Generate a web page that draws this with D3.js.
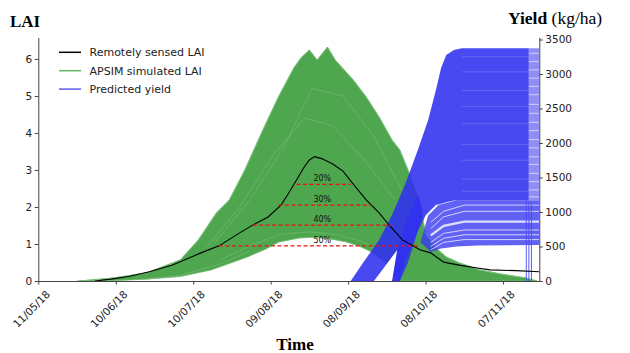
<!DOCTYPE html>
<html><head><meta charset="utf-8">
<script src="https://cdn.jsdelivr.net/npm/d3@7"></script>
<style>
body{margin:0;background:#fff}
svg{display:block}
</style>
</head><body>
<svg id="c" width="630" height="353"></svg>
<script>
// ---------------- DATA ----------------
const xTickDates = ["2018-05-11","2018-06-10","2018-07-10","2018-08-09","2018-09-08","2018-10-08","2018-11-07"];
const laiTicks = [0,1,2,3,4,5,6];
const yieldTicks = [0,500,1000,1500,2000,2500,3000,3500];
const legendLabels = ["Remotely sensed LAI","APSIM simulated LAI","Predicted yield"];

// Remotely sensed LAI (black)
const rsDates = ["2018-06-02","2018-06-08","2018-06-15","2018-06-23","2018-07-02","2018-07-13","2018-07-20","2018-07-28","2018-08-02","2018-08-08","2018-08-13","2018-08-16","2018-08-19","2018-08-22","2018-08-24","2018-08-26","2018-08-29","2018-09-02","2018-09-06","2018-09-10","2018-09-15","2018-09-20","2018-09-24","2018-09-29","2018-10-06","2018-10-10","2018-10-15","2018-10-21","2018-10-28","2018-11-02","2018-11-12","2018-11-21"];
const rsLAI = [0.00,0.05,0.12,0.25,0.43,0.76,0.95,1.30,1.51,1.73,2.05,2.38,2.73,3.08,3.27,3.36,3.30,3.16,2.97,2.62,2.19,1.84,1.50,1.11,0.84,0.76,0.51,0.43,0.35,0.30,0.28,0.25];

// APSIM simulated LAI ensemble: upper and lower envelope
const gUpDates = ["2018-05-27","2018-06-09","2018-06-22","2018-07-05","2018-07-12","2018-07-19","2018-07-24","2018-07-30","2018-08-06","2018-08-12","2018-08-18","2018-08-21","2018-08-24","2018-08-27","2018-08-31","2018-09-03","2018-09-10","2018-09-15","2018-09-20","2018-09-25","2018-09-28","2018-10-02","2018-10-06","2018-10-08","2018-10-12","2018-10-16","2018-10-21","2018-10-29","2018-11-06","2018-11-16","2018-11-20"];
const gUpLAI = [0,0.08,0.22,0.57,1.11,1.84,2.19,3.00,4.08,4.97,5.76,6.05,6.24,5.97,6.32,5.97,5.43,4.97,4.43,3.81,3.54,2.86,2.05,1.24,0.89,0.65,0.49,0.30,0.19,0.08,0];
const gLoDates = ["2018-05-26","2018-06-09","2018-06-22","2018-07-05","2018-07-17","2018-07-31","2018-08-07","2018-08-12","2018-08-20","2018-08-25","2018-08-31","2018-09-07","2018-09-12","2018-09-17","2018-09-23","2018-09-26","2018-09-28","2018-11-20"];
const gLoLAI = [0,0.01,0.05,0.12,0.30,0.65,0.86,1.05,1.16,1.18,1.15,1.06,0.95,0.79,0.48,0.16,0,0];
// a few visible individual simulated members (lighter streaks)
const memberDates = [
  ["2018-07-20","2018-08-01","2018-08-12","2018-08-24","2018-09-04","2018-09-14","2018-09-22"],
  ["2018-07-15","2018-07-28","2018-08-10","2018-08-22","2018-09-02","2018-09-14","2018-09-26"],
  ["2018-07-18","2018-08-01","2018-08-14","2018-08-25","2018-09-06","2018-09-18","2018-09-30"],
  ["2018-06-20","2018-07-05","2018-07-20","2018-08-01"]
];
const memberLAI = [
  [0.55,0.95,1.25,1.33,1.25,1.05,0.70],
  [0.90,2.00,3.40,4.40,4.20,3.30,2.20],
  [1.00,2.20,3.60,5.20,5.00,3.90,2.30],
  [0.04,0.15,0.45,0.80]
];

// Predicted yield ensemble (kg/ha): top and bottom of the dense bundle
const bColDates = ["2018-09-09","2018-09-14","2018-09-18","2018-09-20","2018-09-25","2018-09-28","2018-09-30","2018-10-04","2018-10-05","2018-10-08","2018-10-09","2018-10-12","2018-10-14","2018-10-16","2018-10-19","2018-10-22","2018-11-17"];
const bTop    = [0,275,488,594,956,1217,1391,1797,1898,2224,2333,2768,3087,3275,3348,3372,3372];
const bBottom = [0,0,0,0,0,0,300,650,720,950,990,1100,1120,1140,1165,1170,1170];
// gap (no lines) between the early and the later bundle near the ground
const holeDates = ["2018-09-18","2018-09-27","2018-09-25"];
const holeYield = [0,450,0];
// later bundle rising from the ground
const band2Dates = ["2018-09-25","2018-09-27","2018-10-01","2018-10-05","2018-10-07","2018-10-04","2018-10-01","2018-09-28"];
const band2Yield = [0,450,900,1250,1000,600,250,0];
// lower-yield lines region
const stripeDates = ["2018-10-06","2018-10-09","2018-10-13","2018-10-20","2018-11-21","2018-11-21","2018-10-28","2018-10-20","2018-10-14","2018-10-10"];
const stripeYield = [560,950,1100,1170,1170,520,515,500,470,420];
// gaps between lower-yield lines
const gapDates = ["2018-10-10","2018-10-15","2018-10-23","2018-11-21"];
const gapYield = [
  [850,1010,1100,1100],
  [760,930,1010,1010],
  [660,800,860,860],
  [560,690,740,740],
  [500,620,670,670],
  [450,560,600,600]
];
// lines that stop at the end of the season
const lateDates = ["2018-11-17","2018-11-21"];
const lateYield = [3372,1170];
const dropDates = ["2018-11-16","2018-11-17","2018-11-18"];
const dropFrom = [1170,1150,1120];
const streakYield = [3250,3030,2760,2530,2280,1980,1750,1480,1300];
const lateGapYield = [3300,3180,3060,2940,2820,2700,2560,2430,2300,2180,2050,1930,1800,1690,1560,1440,1320,1220];

// Threshold lines
const thrLabels = ["20%","30%","40%","50%"];
const thrLAI = [2.61,2.05,1.51,0.95];
const thrStart = ["2018-08-19","2018-08-12","2018-08-02","2018-07-20"];
const thrEnd = ["2018-09-09","2018-09-17","2018-09-25","2018-10-05"];
const thrLabelDate = "2018-08-29";

// ---------------- CHART ----------------
const P = d3.timeParse("%Y-%m-%d");
const svg = d3.select("#c");
const L = 38.3, R = 539.3, T = 37.5, B = 281;
const x = d3.scaleTime().domain([new Date(2018,4,11), new Date(2018,10,21,1)]).range([L, R]);
const yL = d3.scaleLinear().domain([0, 6.58]).range([B, T]);
const yR = d3.scaleLinear().domain([0, 3529]).range([B, T]);

const pts = (ds, vs, ys) => ds.map((d,i) => [x(P(d)), ys(vs[i])]);
const line = d3.line();
const closed = p => line(p) + "Z";

// green ensemble
const gUp = pts(gUpDates, gUpLAI, yL);
const gLo = pts(gLoDates, gLoLAI, yL);
svg.append("path").attr("d", closed(gUp.concat(gLo.slice().reverse())))
  .attr("fill", "#4ea64e").attr("stroke", "#6fba6f").attr("stroke-width", 0.8);
memberDates.forEach((ds, i) => {
  svg.append("path").attr("d", line(pts(ds, memberLAI[i], yL)))
    .attr("fill", "none").attr("stroke", "#9ed29e").attr("stroke-width", 0.6).attr("opacity", 0.55);
});
svg.append("path").attr("d", line(gUp)).attr("fill","none").attr("stroke","#78c078").attr("stroke-width",1);

// blue ensemble (semi-transparent like overlapping alpha lines)
svg.append("path").attr("d", closed(pts(stripeDates, stripeYield, yR))).attr("fill", "#3a3af0").attr("opacity", 0.8);
svg.append("path").attr("d", closed(pts(band2Dates, band2Yield, yR))).attr("fill", "#3030f0").attr("opacity", 0.85);
const bRows = bColDates.map((d, i) => ({date: P(d), lo: bBottom[i], hi: bTop[i]}));
svg.append("path").datum(bRows)
  .attr("d", d3.area().x(d => x(d.date)).y0(d => yR(d.lo)).y1(d => yR(d.hi)))
  .attr("fill", "#3030f0").attr("opacity", 0.88);
svg.append("path").attr("d", closed([[x(P(lateDates[0])), yR(lateYield[0])],[x(P(lateDates[1])), yR(lateYield[0])],[x(P(lateDates[1])), yR(lateYield[1])],[x(P(lateDates[0])), yR(lateYield[1])]]))
  .attr("fill", "#8e8ef5");
streakYield.forEach(v => {
  svg.append("path").attr("d", line([[x(P("2018-10-22")), yR(v)],[x(P(lateDates[0])), yR(v)]]))
    .attr("stroke","#fff").attr("stroke-width",0.7).attr("opacity",0.22);
});
lateGapYield.forEach(v => {
  svg.append("path").attr("d", line([[x(P(lateDates[0])), yR(v)],[x(P(lateDates[1])), yR(v)]]))
    .attr("stroke","#fff").attr("stroke-width",1.1).attr("opacity",0.55);
});
gapYield.forEach((vs, i) => {
  svg.append("path").attr("d", line(pts(gapDates, vs, yR)))
    .attr("fill","none").attr("stroke","#fff").attr("stroke-width", i===2 ? 2.2 : 0.9).attr("opacity",0.8);
});
svg.append("path").attr("d", closed(pts(holeDates, holeYield, yR))).attr("fill", "#fff");
dropDates.forEach((d, i) => {
  svg.append("path").attr("d", line([[x(P(d)), yR(dropFrom[i])],[x(P(d)), yR(0)]]))
    .attr("stroke","#4a4af0").attr("stroke-width",0.9);
});

// black line
svg.append("path").attr("d", line(pts(rsDates, rsLAI, yL)))
  .attr("fill","none").attr("stroke","#000").attr("stroke-width",1.1);

// thresholds
thrLAI.forEach((v, i) => {
  svg.append("line").attr("x1", x(P(thrStart[i]))).attr("x2", x(P(thrEnd[i])))
    .attr("y1", yL(v)).attr("y2", yL(v))
    .attr("stroke","#f01010").attr("stroke-width",1.4).attr("stroke-dasharray","4,2.5");
  svg.append("text").attr("x", x(P(thrLabelDate))).attr("y", yL(v) - 3.2)
    .attr("text-anchor","middle").style("font-family","DejaVu Sans").attr("font-size", 8)
    .attr("fill","#111").text(thrLabels[i]);
});

// axes
const axCol = "#444";
const gl = svg.append("g").attr("transform", `translate(${L},0)`)
  .call(d3.axisLeft(yL).tickValues(laiTicks).tickFormat(d3.format("d")).tickSize(3.5).tickSizeOuter(0).tickPadding(2.5));
const gr = svg.append("g").attr("transform", `translate(${R},0)`)
  .call(d3.axisRight(yR).tickValues(yieldTicks).tickFormat(d3.format("d")).tickSize(3.5).tickSizeOuter(0).tickPadding(2.5));
const gb = svg.append("g").attr("transform", `translate(0,${B})`)
  .call(d3.axisBottom(x).tickValues(xTickDates.map(P)).tickFormat(d3.timeFormat("%d/%m/%y")).tickSize(3.5).tickSizeOuter(0));
[gl, gr, gb].forEach(g => {
  g.select(".domain").attr("stroke", axCol).attr("stroke-width", 1);
  g.selectAll(".tick line").attr("stroke", axCol);
  g.selectAll("text").attr("font-size", 10.5).attr("fill", "#222").style("font-family", "DejaVu Sans");
});
gb.selectAll("text").attr("text-anchor","end").attr("dy", null)
  .attr("transform", "translate(12,14) rotate(-45)").attr("x", 0).attr("y", 0);

// titles
const serif = "'Liberation Serif','Times New Roman',serif";
svg.append("text").attr("x", 10).attr("y", 27).style("font-family", serif)
  .attr("font-weight","bold").attr("font-size", 17).attr("fill","#000").text("LAI");
const yt = svg.append("text").attr("x", 508).attr("y", 24).style("font-family", serif)
  .attr("font-size", 17.5).attr("fill","#000");
yt.append("tspan").attr("font-weight","bold").text("Yield");
yt.append("tspan").text(" (kg/ha)");
svg.append("text").attr("x", 295).attr("y", 350).attr("text-anchor","middle").style("font-family", serif)
  .attr("font-weight","bold").attr("font-size", 17).attr("fill","#000").text("Time");

// legend
const legCols = ["#000", "#62b862", "#5a5af2"];
legendLabels.forEach((t, i) => {
  const yy = 52.3 + i * 18.4;
  svg.append("line").attr("x1", 59).attr("x2", 81).attr("y1", yy).attr("y2", yy)
    .attr("stroke", legCols[i]).attr("stroke-width", 1.5);
  svg.append("text").attr("x", 89.5).attr("y", yy).attr("dy", "0.35em").style("font-family","DejaVu Sans")
    .attr("font-size", 11).attr("fill", "#222").text(t);
});
</script>
</body></html>
